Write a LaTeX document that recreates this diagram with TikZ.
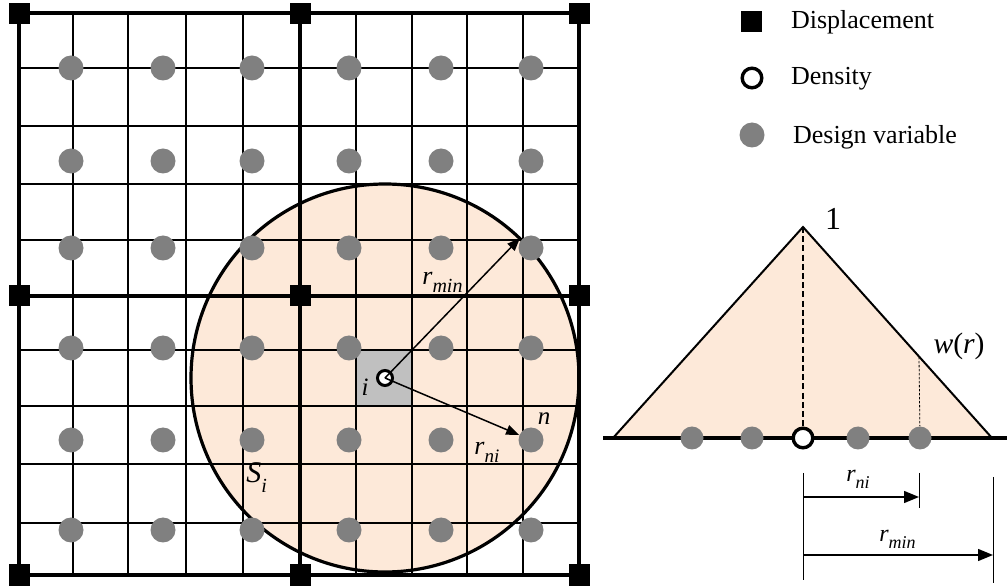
\documentclass[tikz,border=0pt]{standalone}
\usepackage{fontspec}
\setmainfont{Liberation Serif}
\usetikzlibrary{arrows.meta,calc}
\definecolor{peach}{RGB}{253,233,217}
\definecolor{dvgray}{RGB}{128,128,128}
\definecolor{cellgray}{RGB}{192,192,192}
\newcommand{\lowsub}[3]{\raisebox{-#1}{\fontsize{#2}{#2}\selectfont\itshape #3}}
\begin{document}
\begin{tikzpicture}[x=0.5pt,y=-0.5pt,
  thingrid/.style={line width=0.75pt},
  thickgrid/.style={line width=2.4pt},
  dv/.style={circle,fill=dvgray,inner sep=0pt,minimum size=12.5pt},
  dvs/.style={circle,fill=dvgray,inner sep=0pt,minimum size=11.5pt},
  disp/.style={rectangle,fill=black,inner sep=0pt,minimum size=10.5pt},
  dens/.style={circle,draw=black,fill=white,line width=1.7pt,inner sep=0pt,minimum size=9.8pt},
  denssmall/.style={circle,draw=black,fill=white,line width=1.5pt,inner sep=0pt,minimum size=7.5pt},
  arr/.style={line width=0.75pt,-{Triangle[length=6.5pt,width=5pt]}},
  dimarr/.style={line width=0.7pt,-{Triangle[length=7.5pt,width=6pt]}},
  dimline/.style={line width=0.5pt},
  lbl/.style={font=\fontsize{12.5}{15}\selectfont},
  glbl/.style={font=\fontsize{13}{15}\selectfont,anchor=base west,inner sep=0pt},
  rlbl/.style={font=\fontsize{12}{14}\selectfont,anchor=base west,inner sep=0pt},
  leg/.style={font=\fontsize{13}{15}\selectfont,anchor=west},
]
\useasboundingbox (0,0) rectangle (1008,588);

% ---------- filter region ----------
\fill[peach] (385,378) circle[radius=97pt];
\fill[cellgray] (356,350) rectangle (412,406);

% ---------- grid ----------
\foreach \x in {73,128,186,243,356,412,467,523}
  \draw[thingrid] (\x,13) -- (\x,575);
\foreach \y in {68,126,184,240,350,406,464,523}
  \draw[thingrid] (19,\y) -- (579,\y);
\foreach \x in {19,300,579}
  \draw[thickgrid] (\x,13) -- (\x,575);
\foreach \y in {13,296,575}
  \draw[thickgrid] (19,\y) -- (579,\y);

\draw[line width=1.6pt] (385,378) circle[radius=97pt];

% ---------- design variables ----------
\foreach \x [count=\i] in {71,163,252,349,441,531}
  \foreach \y [count=\j] in {68,161,248,348,440,530}
    \node[dv] (d-\i-\j) at (\x,\y) {};

% ---------- displacement nodes ----------
\foreach \x [count=\i] in {19,300,579}
  \foreach \y [count=\j] in {14,296,575}
    \node[disp] (u-\i-\j) at (\x,\y) {};

% ---------- density i ----------
\node[denssmall] (i) at (385,378) {};
\coordinate (rtip) at (520,238);
\draw[arr] (i.center) -- (rtip);
\draw[arr] (i.center) -- (d-6-5);

\node[glbl] (lrmin) at (422,285) {\itshape r\lowsub{4pt}{10}{min}};
\node[glbl] (lrni) at (474,455) {\itshape r\lowsub{4pt}{9.5}{ni}};
\node[lbl] (ln) at (544,419) {\itshape n};
\node[lbl] (li) at (365,387) {\itshape i};
\node[glbl,font=\fontsize{15}{17}\selectfont] (lS) at (246,483) {\itshape S\lowsub{5pt}{10}{i}};

% ---------- weight function ----------
\coordinate (apex) at (803,227);
\coordinate (bl) at (613,438);
\coordinate (br) at (992,438);
\coordinate (axl) at (603,438);
\coordinate (axr) at (1007,438);
\fill[peach] (bl) -- (apex) -- (br) -- cycle;
\draw[line width=1pt] (bl) -- (apex) -- (br);
\draw[line width=2pt] (axl) -- (axr);

\node[dvs] (e1) at (692,438) {};
\node[dvs] (e2) at (752,438) {};
\node[dvs] (e3) at (858,438) {};
\node[dvs] (e4) at (920,438) {};
\node[dens] (c0) at (803,438) {};

\draw[line width=0.7pt,dash pattern=on 3pt off 1.6pt] (apex) -- (c0);
\coordinate (wr) at (919,357);
\draw[line width=0.4pt,dash pattern=on 1.2pt off 0.8pt] (wr) -- (e4);

\node[font=\fontsize{16}{18}\selectfont] (lone) at (833,219) {1};
\node[font=\fontsize{14.8}{17}\selectfont] (lw) at (959,346) {{\itshape w}({\itshape r})};

% dimensions
\coordinate (v1t) at (803,473); \coordinate (v1b) at (803,580);
\coordinate (v2t) at (919,473); \coordinate (v2b) at (919,508);
\coordinate (v3t) at (993,477); \coordinate (v3b) at (993,583);
\draw[dimline] (v1t) -- (v1b);
\draw[dimline] (v2t) -- (v2b);
\draw[dimline] (v3t) -- (v3b);
\coordinate (a1s) at (803,497); \coordinate (a1e) at (919,497);
\coordinate (a2s) at (803,555); \coordinate (a2e) at (993,555);
\draw[dimarr] (a1s) -- (a1e);
\draw[dimarr] (a2s) -- (a2e);
\node[rlbl] (lrni2) at (846,482) {\itshape r\lowsub{3pt}{9}{ni}};
\node[rlbl] (lrmin2) at (879,542) {\itshape r\lowsub{3pt}{9}{min}};

% ---------- legend ----------
\node[disp] (kd) at (751,22) {};
\node[leg] (kdt) at (784,22) {Displacement};
\node[dens] (kc) at (752,78) {};
\node[leg] (kct) at (784,79) {Density};
\node[dv] (kv) at (752,135) {};
\node[leg] (kvt) at (786,137) {Design variable};
\end{tikzpicture}
\end{document}
